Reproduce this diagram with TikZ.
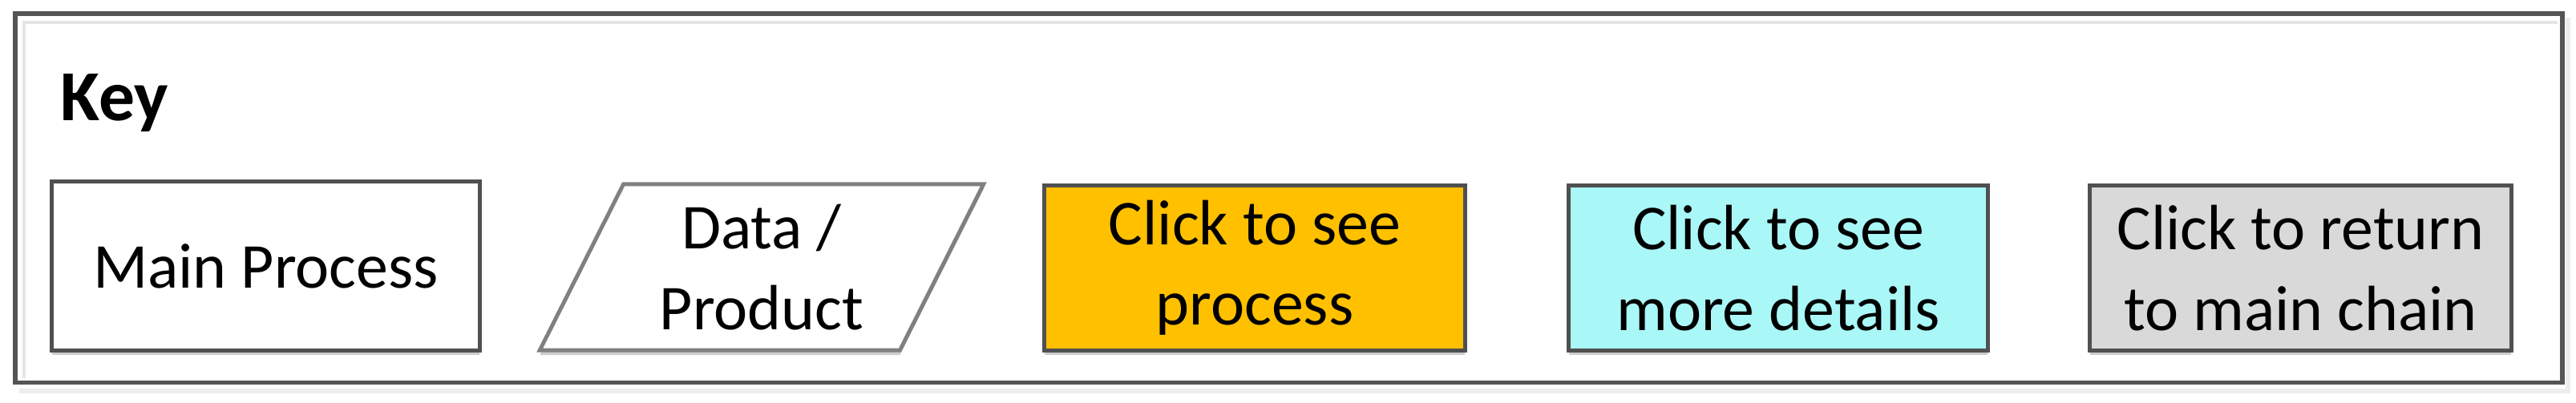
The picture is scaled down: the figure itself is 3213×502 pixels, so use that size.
\documentclass[tikz,border=0pt]{standalone}
\usepackage{fontspec}
\setmainfont{Carlito}
\usetikzlibrary{shapes.geometric,shadows}
\definecolor{frameC}{HTML}{555555}
\definecolor{edgeC}{HTML}{505050}
\definecolor{paraC}{HTML}{808080}
\definecolor{orangeF}{HTML}{FFC000}
\definecolor{cyanF}{HTML}{AAF7F8}
\definecolor{grayF}{HTML}{D9D9D9}
\begin{document}
\begin{tikzpicture}[x=0.01cm,y=-0.01cm,
  keybox/.style={draw=edgeC, line width=1.4pt, align=center, inner sep=0pt,
    font=\fontsize{22.7}{28.5}\selectfont,
    drop shadow={shadow xshift=0cm, shadow yshift=-0.06cm, fill=black!20, opacity=1}},
  keytitle/.style={font=\bfseries\fontsize{25.5}{30}\selectfont, inner sep=0pt}
]
\useasboundingbox (0,0) rectangle (3213,502);
% outer frame with light inner edge and outer shadow
\draw[black!7, line width=1.8pt] (24,488) -- (3203,488) -- (3203,22);
\draw[black!10, line width=1.4pt] (30,472) -- (30,28) -- (3190,28);
\node[draw=frameC, line width=1.5pt, minimum width=31.75cm, minimum height=4.60cm, inner sep=0pt] (frame) at (1607.5,247) {};
% title
\node[keytitle, anchor=base west] (key) at (75,150) {Key};
% entries
\node[keybox, fill=white, minimum width=5.33cm, minimum height=2.10cm] (main) at (331.5,332) {Main Process};
\node[keybox, fill=white, trapezium, trapezium stretches=true,
  trapezium left angle=63.8, trapezium right angle=116.2,
  draw=paraC, minimum width=5.54cm, minimum height=2.07cm] (data) at (950,333.5) {Data /\\Product};
\node[keybox, fill=orangeF, minimum width=5.24cm, minimum height=2.05cm] (proc) at (1565,334.5) {Click to see\\process};
\node[keybox, fill=cyanF, minimum width=5.22cm, minimum height=2.05cm] (det) at (2218,334.5) {Click to see\\more details};
\node[keybox, fill=grayF, minimum width=5.25cm, minimum height=2.05cm] (ret) at (2869.5,334.5) {Click to return\\to main chain};
\end{tikzpicture}
\end{document}
